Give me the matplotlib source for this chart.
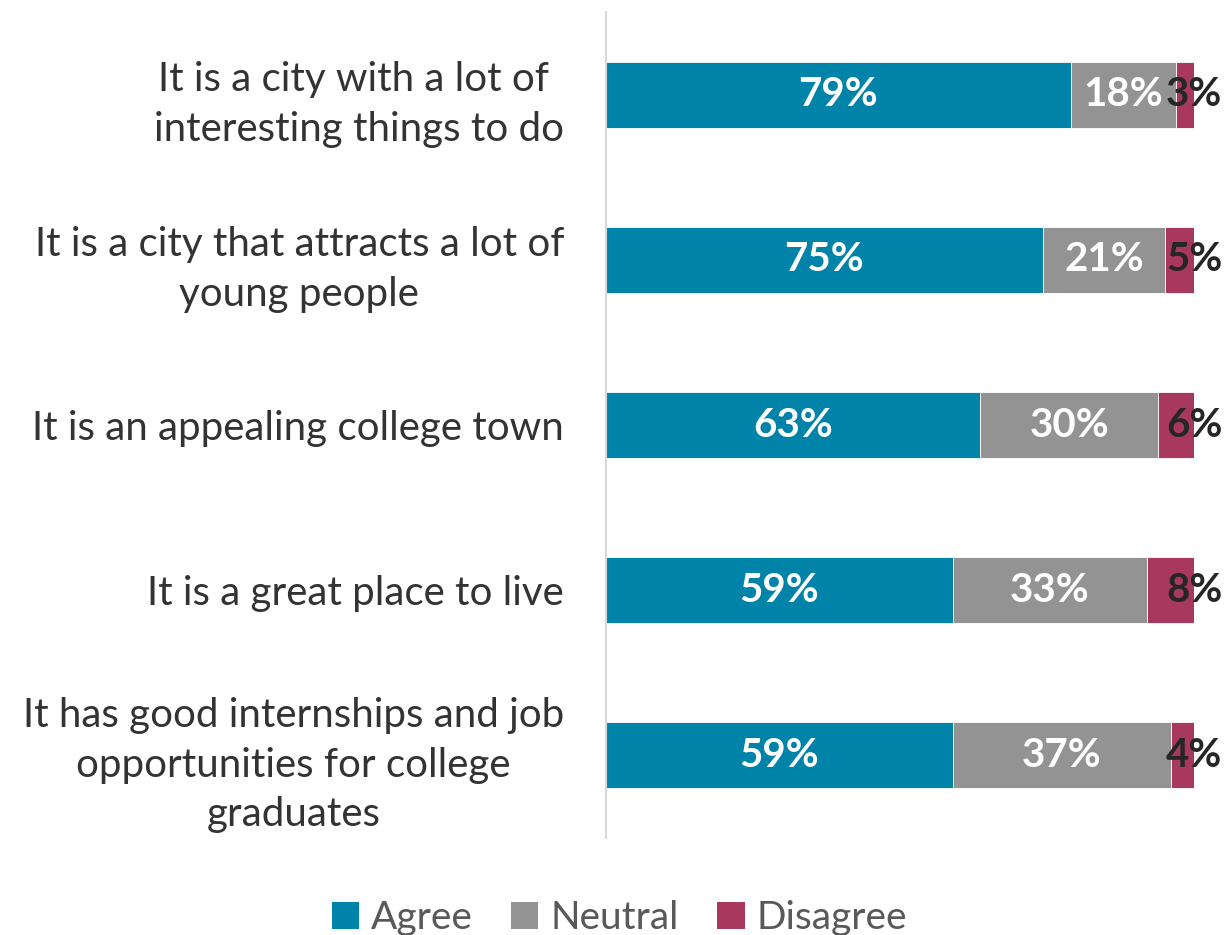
import numpy as np
import matplotlib.pyplot as plt
from matplotlib.patches import Patch

statements = [
    "It is a city with a lot of \ninteresting things to do",
    "It is a city that attracts a lot of\nyoung people",
    "It is an appealing college town",
    "It is a great place to live",
    "It has good internships and job\nopportunities for college\ngraduates",
]
agree = [79, 75, 63, 59, 59]
neutral = [18, 21, 30, 33, 37]
disagree = [3, 5, 6, 8, 4]

series_names = ["Agree", "Neutral", "Disagree"]
colors = ["#0083A8", "#939393", "#A8385E"]
label_colors = ["white", "white", "#262626"]

plt.rcParams['font.family'] = ['Lato', 'DejaVu Sans']

fig = plt.figure(figsize=(12.26, 9.35), dpi=100)
ax = fig.add_axes([0.494, 0.1037, 0.48, 0.8834])

data = np.array([agree, neutral, disagree], dtype=float)
totals = data.sum(axis=0)
shares = data / totals
y = np.arange(len(statements))

left = np.zeros(len(statements))
for i in range(3):
    ax.barh(y, shares[i], left=left, height=0.4, color=colors[i],
            edgecolor='white', linewidth=0.6)
    for j in range(len(statements)):
        if i == 2:
            # disagree labels sit at the end of the bar
            xpos = left[j] + shares[i][j]
        else:
            xpos = left[j] + shares[i][j] / 2
        ax.text(xpos, y[j], f"{int(data[i][j])}%",
                ha='center', va='center', color=label_colors[i],
                fontsize=29, fontweight='bold')
    left = left + shares[i]

ax.set_xlim(0, 1)
ax.set_ylim(len(statements) - 0.5, -0.5)
ax.set_yticks(y)
ax.set_yticklabels(statements, fontsize=29, color='#333333', linespacing=1.42)
ax.tick_params(axis='y', length=0, pad=30)
ax.set_xticks([])
for s in ['top', 'right', 'bottom']:
    ax.spines[s].set_visible(False)
ax.spines['left'].set_color('#D9D9D9')
ax.spines['left'].set_linewidth(1.5)
for t in ax.get_yticklabels():
    t.set_horizontalalignment('right')
    t.set_multialignment('center')

handles = [Patch(facecolor=c, label=n) for c, n in zip(colors, series_names)]
leg = fig.legend(handles=handles, loc='center', bbox_to_anchor=(0.505, 0.018),
                 ncol=3, frameon=False, fontsize=28, handlelength=0.7,
                 handleheight=0.7, handletextpad=0.3, columnspacing=1.0)
for t in leg.get_texts():
    t.set_color('#595959')

fig.savefig('out.png', dpi=100)
